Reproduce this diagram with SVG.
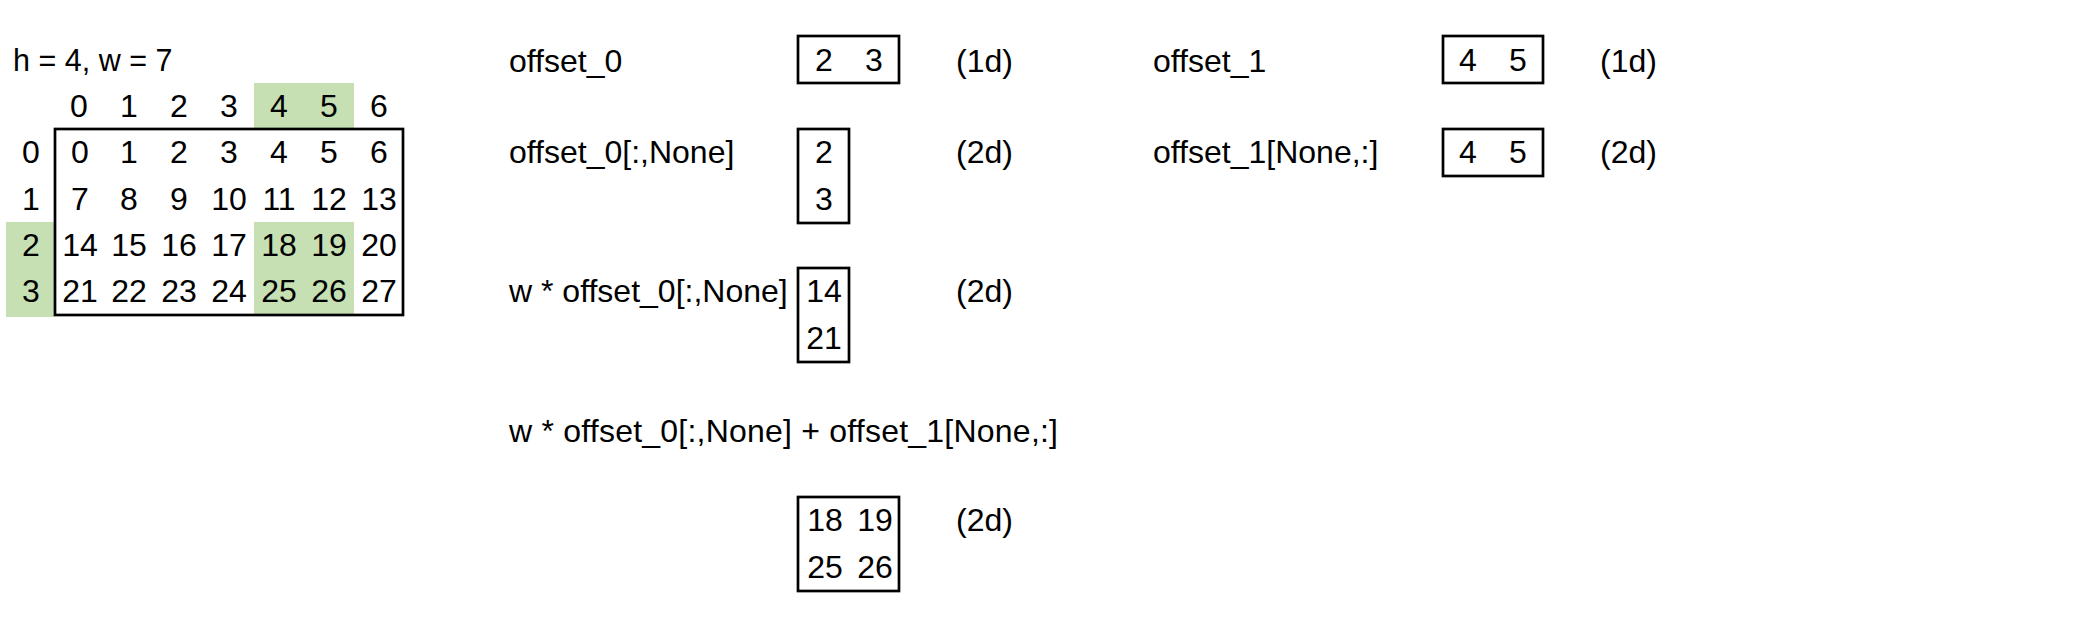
<svg xmlns="http://www.w3.org/2000/svg" width="2088" height="638" viewBox="0 0 2088 638">
<style>
text{font-family:"Liberation Sans",Arial,sans-serif;font-size:32px;fill:#000}
.c{text-anchor:middle}
.box{fill:none;stroke:#000;stroke-width:2.7}
.hl{fill:#C6E0B4}
</style>
<rect width="2088" height="638" fill="#fff"/>
<g id="matrix">
<text x="13" y="71" style="font-size:30.5px">h = 4, w = 7</text>
<rect class="hl" x="254" y="83" width="100" height="46"/>
<rect class="hl" x="254" y="222" width="100" height="93"/>
<rect class="hl" x="6" y="222" width="48" height="95"/>
<rect class="box" x="55" y="129" width="348" height="186"/>
<g class="c">
<text x="79" y="117">0</text><text x="129" y="117">1</text><text x="179" y="117">2</text><text x="229" y="117">3</text><text x="279" y="117">4</text><text x="329" y="117">5</text><text x="379" y="117">6</text>
<text x="31" y="163">0</text><text x="31" y="210">1</text><text x="31" y="256">2</text><text x="31" y="302">3</text>
<text x="80" y="163">0</text><text x="129" y="163">1</text><text x="179" y="163">2</text><text x="229" y="163">3</text><text x="279" y="163">4</text><text x="329" y="163">5</text><text x="379" y="163">6</text>
<text x="80" y="210">7</text><text x="129" y="210">8</text><text x="179" y="210">9</text><text x="229" y="210">10</text><text x="279" y="210">11</text><text x="329" y="210">12</text><text x="379" y="210">13</text>
<text x="80" y="256">14</text><text x="129" y="256">15</text><text x="179" y="256">16</text><text x="229" y="256">17</text><text x="279" y="256">18</text><text x="329" y="256">19</text><text x="379" y="256">20</text>
<text x="80" y="302">21</text><text x="129" y="302">22</text><text x="179" y="302">23</text><text x="229" y="302">24</text><text x="279" y="302">25</text><text x="329" y="302">26</text><text x="379" y="302">27</text>
</g>
</g>
<g id="offset0">
<text x="509" y="72">offset_0</text>
<rect class="box" x="798" y="36" width="101" height="47"/>
<text class="c" x="824" y="71">2</text><text class="c" x="874" y="71">3</text>
<text x="956" y="72">(1d)</text>
</g>
<g id="offset0-col">
<text x="509" y="163">offset_0[:,None]</text>
<rect class="box" x="798" y="129" width="51" height="94"/>
<text class="c" x="824" y="163">2</text><text class="c" x="824" y="210">3</text>
<text x="956" y="163">(2d)</text>
</g>
<g id="w-offset0">
<text x="509" y="302">w * offset_0[:,None]</text>
<rect class="box" x="798" y="268" width="51" height="94"/>
<text class="c" x="824" y="302">14</text><text class="c" x="824" y="349">21</text>
<text x="956" y="302">(2d)</text>
</g>
<g id="sum">
<text x="509" y="442" textLength="549" lengthAdjust="spacing">w * offset_0[:,None] + offset_1[None,:]</text>
<rect class="box" x="798" y="497" width="101" height="94"/>
<text class="c" x="825" y="531">18</text><text class="c" x="875" y="531">19</text>
<text class="c" x="825" y="578">25</text><text class="c" x="875" y="578">26</text>
<text x="956" y="531">(2d)</text>
</g>
<g id="offset1">
<text x="1153" y="72">offset_1</text>
<rect class="box" x="1443" y="36" width="100" height="47"/>
<text class="c" x="1468" y="71">4</text><text class="c" x="1518" y="71">5</text>
<text x="1600" y="72">(1d)</text>
</g>
<g id="offset1-row">
<text x="1153" y="163">offset_1[None,:]</text>
<rect class="box" x="1443" y="129" width="100" height="47"/>
<text class="c" x="1468" y="163">4</text><text class="c" x="1518" y="163">5</text>
<text x="1600" y="163">(2d)</text>
</g>
<g id="connectors"/>
</svg>
